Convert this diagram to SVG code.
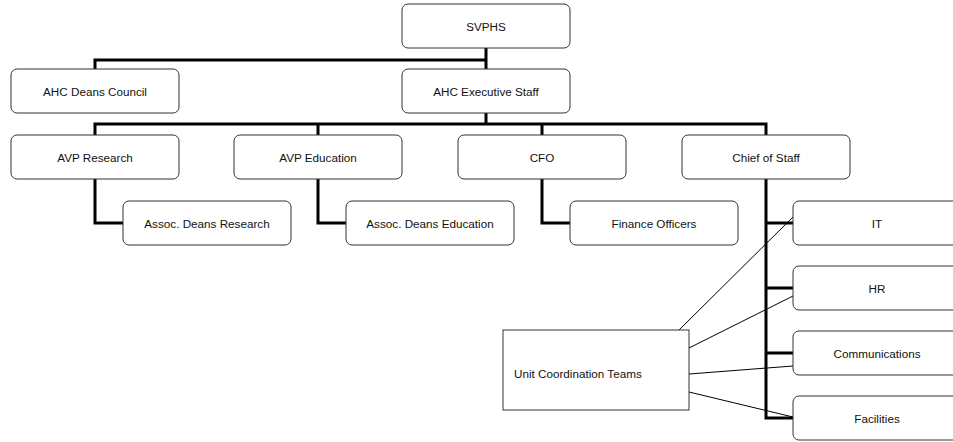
<svg xmlns="http://www.w3.org/2000/svg" width="953" height="442" viewBox="0 0 953 442">
<style>
.box{fill:#fff;stroke:#333;stroke-width:1}
.t{font-family:"Liberation Sans",Arial,sans-serif;font-size:11.7px;fill:#111;text-anchor:middle;dominant-baseline:central}
.tl{font-family:"Liberation Sans",Arial,sans-serif;font-size:11.7px;fill:#111;dominant-baseline:central}
.thick{fill:none;stroke:#000;stroke-width:3;stroke-linejoin:miter}
.thin{fill:none;stroke:#000;stroke-width:1}
</style>
<rect width="953" height="442" fill="#fff"/>
<g id="connectors">
<path class="thick" d="M486 48V69M95 69V60H486M486 113V124M95 135V124H766V135M318 124V135M542 124V135"/>
<path class="thick" d="M95 179V223H123M318 179V223H346M542 179V223H570"/>
<path class="thick" d="M766 179V418H793M766 223H793M766 288H793M766 353H793"/>
<path class="thin" d="M679 330L793 217M689 348L793 296M689 374L793 366M689 392L793 417"/>
</g>
<g id="svphs"><rect class="box" x="402" y="4" width="168" height="44" rx="6"/><text class="t" x="486" y="26">SVPHS</text></g>
<g id="deans-council"><rect class="box" x="11" y="69" width="168" height="44" rx="6"/><text class="t" x="95" y="91">AHC Deans Council</text></g>
<g id="exec-staff"><rect class="box" x="402" y="69" width="168" height="44" rx="6"/><text class="t" x="486" y="91">AHC Executive Staff</text></g>
<g id="avp-research"><rect class="box" x="11" y="135" width="168" height="44" rx="6"/><text class="t" x="95" y="157">AVP Research</text></g>
<g id="avp-education"><rect class="box" x="234" y="135" width="168" height="44" rx="6"/><text class="t" x="318" y="157">AVP Education</text></g>
<g id="cfo"><rect class="box" x="458" y="135" width="168" height="44" rx="6"/><text class="t" x="542" y="157">CFO</text></g>
<g id="chief-of-staff"><rect class="box" x="682" y="135" width="168" height="44" rx="6"/><text class="t" x="766" y="157">Chief of Staff</text></g>
<g id="assoc-research"><rect class="box" x="123" y="201" width="168" height="44" rx="6"/><text class="t" x="207" y="223">Assoc. Deans Research</text></g>
<g id="assoc-education"><rect class="box" x="346" y="201" width="168" height="44" rx="6"/><text class="t" x="430" y="223">Assoc. Deans Education</text></g>
<g id="finance-officers"><rect class="box" x="570" y="201" width="168" height="44" rx="6"/><text class="t" x="654" y="223">Finance Officers</text></g>
<g id="it"><rect class="box" x="793" y="201" width="168" height="44" rx="6"/><text class="t" x="877" y="223">IT</text></g>
<g id="hr"><rect class="box" x="793" y="266" width="168" height="44" rx="6"/><text class="t" x="877" y="288">HR</text></g>
<g id="communications"><rect class="box" x="793" y="331" width="168" height="44" rx="6"/><text class="t" x="877" y="353">Communications</text></g>
<g id="facilities"><rect class="box" x="793" y="396" width="168" height="44" rx="6"/><text class="t" x="877" y="418">Facilities</text></g>
<g id="unit-coordination"><rect class="box" x="503" y="330" width="186" height="80"/><text class="tl" x="514" y="373">Unit Coordination Teams</text></g>
</svg>
